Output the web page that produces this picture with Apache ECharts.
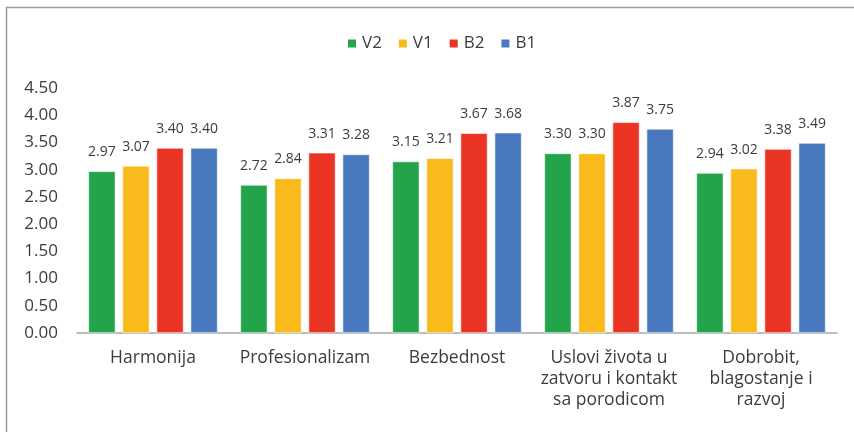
<!DOCTYPE html>
<html>
<head>
<meta charset="utf-8">
<script src="https://cdn.jsdelivr.net/npm/echarts@6/dist/echarts.min.js"></script>
<style>
  html, body { margin: 0; padding: 0; background: #fff; }
  #chart { width: 854px; height: 432px; }
</style>
</head>
<body>
<div id="chart"></div>
<script>
// Categories and the four survey series
const categories = [
  'Harmonija',
  'Profesionalizam',
  'Bezbednost',
  'Uslovi života u\nzatvoru i kontakt\nsa porodicom',
  'Dobrobit,\nblagostanje i\nrazvoj'
];
const seriesNames = ['V2', 'V1', 'B2', 'B1'];
const v2 = [2.97, 2.72, 3.15, 3.30, 2.94];
const v1 = [3.07, 2.84, 3.21, 3.30, 3.02];
const b2 = [3.40, 3.31, 3.67, 3.87, 3.38];
const b1 = [3.40, 3.28, 3.68, 3.75, 3.49];
const colors = ['#23A44B', '#F8BB1B', '#EA3424', '#4A78BE'];

const FONT = '"Open Sans", "Noto Sans", sans-serif';
const TEXT = '#3c3c3c';
const chart = echarts.init(document.getElementById('chart'));

const values = [v2, v1, b2, b1];
const series = values.map((data, i) => ({
  name: seriesNames[i],
  type: 'bar',
  data: data,
  barGap: '26%',
  barCategoryGap: '15%',
  itemStyle: { color: colors[i], borderColor: '#ffffff', borderWidth: 0.6 },
  label: {
    show: true,
    position: 'top',
    distance: 12,
    formatter: p => p.value.toFixed(2),
    color: TEXT,
    fontSize: 14,
    fontFamily: FONT
  }
}));

chart.setOption({
  animation: false,
  color: colors,
  graphic: [{
    type: 'rect',
    shape: { x: 6.5, y: 7.5, width: 900, height: 500 },
    style: { fill: 'none', stroke: '#9a9a9a', lineWidth: 1.5 },
    silent: true
  }],
  legend: {
    data: seriesNames,
    top: 28,
    left: 341,
    itemWidth: 10,
    itemHeight: 10,
    itemGap: 15,
    icon: 'rect',
    textStyle: { color: TEXT, fontSize: 17, lineHeight: 21, fontFamily: FONT }
  },
  grid: { left: 77, right: 17, top: 88, bottom: 99, containLabel: false },
  xAxis: {
    type: 'category',
    data: categories,
    axisLine: { lineStyle: { color: '#A6A6A6', width: 1.5 } },
    axisTick: { show: false },
    axisLabel: {
      color: TEXT,
      fontSize: 17.5,
      fontFamily: FONT,
      lineHeight: 21,
      margin: 15,
      interval: 0
    }
  },
  yAxis: {
    type: 'value',
    min: 0,
    max: 4.5,
    interval: 0.5,
    axisLine: { show: false },
    axisTick: { show: false },
    splitLine: { show: false },
    axisLabel: {
      color: TEXT,
      fontSize: 17,
      fontFamily: FONT,
      margin: 19,
      formatter: v => v.toFixed(2)
    }
  },
  series: series
});
</script>
</body>
</html>
